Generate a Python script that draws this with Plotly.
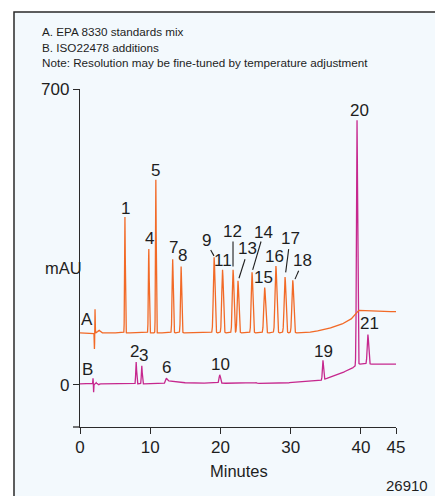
import numpy as np
import plotly.graph_objects as go

# ---- chromatogram peak tables (retention time in min, height in mAU above local baseline, width sigma in min)
peaks_a_time = [6.4, 9.8, 10.8, 13.2, 14.4, 19.1, 20.3, 21.8, 22.5, 24.5, 26.3, 27.9, 29.2, 30.3]
peaks_a_height = [274, 198, 362, 174, 157, 179, 149, 149, 123, 143, 107, 158, 132, 124]
peaks_a_sigma = [0.05, 0.06, 0.05, 0.08, 0.08, 0.11, 0.11, 0.11, 0.11, 0.11, 0.12, 0.12, 0.12, 0.12]

peaks_b_time = [8.0, 8.8, 12.25, 19.9, 25.1, 34.6, 39.45, 41.0]
peaks_b_height = [52, 43, 6, 20, 2, 46, 580, 70]
peaks_b_sigma = [0.06, 0.06, 0.12, 0.1, 0.1, 0.08, 0.08, 0.1]

# injection disturbance (time, height, sigma)
inject_a = [(2.06, -40, 0.03), (2.14, 57, 0.03), (2.7, 6, 0.15)]
inject_b = [(1.86, 14, 0.03), (1.94, -20, 0.03), (2.3, 3, 0.05), (2.7, -2, 0.05)]

# baseline drift knots (time, mAU)
base_a_time = [0, 31.0, 33.0, 35.0, 37.0, 38.5, 39.4, 39.6, 42.0, 45.0]
base_a_level = [123, 123, 125, 131, 141, 154, 168, 176, 174, 173]

base_b_time = [0, 12.0, 12.3, 12.8, 13.5, 14.5, 16.0, 26.0, 29.0, 32.0, 34.3, 36.0, 38.0, 39.4, 39.6, 45.0]
base_b_level = [2, 2, 10, 9, 7, 5, 4, 3, 4, 7, 10, 20, 33, 45, 49, 49]

# peak number labels: (text, time, mAU)
labels = [("1", 6.41, 418), ("4", 9.83, 345), ("5", 10.82, 508), ("7", 13.34, 326),
          ("8", 14.63, 305), ("9", 18.04, 341), ("11", 20.32, 293), ("12", 21.69, 363),
          ("13", 23.82, 323), ("14", 26.10, 361), ("15", 26.10, 255), ("16", 27.63, 304),
          ("17", 30.0, 347), ("18", 31.71, 293), ("20", 39.87, 649), ("21", 41.2, 144),
          ("19", 34.65, 79), ("2", 7.83, 79), ("3", 9.11, 69), ("6", 12.25, 40),
          ("10", 19.94, 49), ("A", 0.95, 155), ("B", 1.04, 37)]

# leader lines from label to peak: (t0, v0, t1, v1)
leaders = [(18.61, 319, 19.08, 305), (21.79, 339, 21.79, 280), (23.50, 297, 22.64, 252),
           (25.78, 339, 24.59, 272), (29.72, 321, 29.29, 266), (31.14, 270, 30.62, 250)]

x_ticks = [0, 10, 20, 30, 40, 45]
y_ticks = [0, 700]

ORANGE = "#f26a27"
MAGENTA = "#c6288e"
TEXT = "#1e1e1e"
FONT = "Liberation Sans, Arial, Helvetica, sans-serif"


def trace(times, heights, sigmas, inject, bt, bl, t):
    y = np.interp(t, bt, bl)
    for t0, h, s in zip(times, heights, sigmas):
        y = y + h * np.exp(-0.5 * ((t - t0) / s) ** 2)
    for t0, h, s in inject:
        y = y + h * np.exp(-0.5 * ((t - t0) / s) ** 2)
    return y


t = np.arange(0, 45.0001, 0.005)
ya = trace(peaks_a_time, peaks_a_height, peaks_a_sigma, inject_a, base_a_time, base_a_level, t)
yb = trace(peaks_b_time, peaks_b_height, peaks_b_sigma, inject_b, base_b_time, base_b_level, t)

fig = go.Figure()
fig.add_trace(go.Scatter(x=t, y=yb, mode="lines", line=dict(color=MAGENTA, width=1.3),
                         hoverinfo="skip", showlegend=False))
fig.add_trace(go.Scatter(x=t, y=ya, mode="lines", line=dict(color=ORANGE, width=1.3),
                         hoverinfo="skip", showlegend=False))

W, H = 435, 496
L, R, T, B = 80, 39, 89, 69
pw, ph = W - L - R, H - T - B


def px(xp):
    return (xp - L) / pw


def py(yp):
    return (H - B - yp) / ph


shapes = [
    # framed panel
    dict(type="rect", xref="paper", yref="paper", x0=px(14), x1=px(450), y0=py(510), y1=py(12),
         line=dict(color="#2a2a2a", width=1.5), fillcolor="#f3f9fd", layer="below"),
    # x axis line extension to the left of zero
    dict(type="line", xref="paper", yref="paper", x0=px(73), x1=0, y0=0, y1=0,
         line=dict(color="#2a2a2a", width=1.3)),
]
for t0, v0, t1, v1 in leaders:
    shapes.append(dict(type="line", xref="x", yref="y", x0=t0, y0=v0, x1=t1, y1=v1,
                       line=dict(color=TEXT, width=1.1)))

annotations = []
for txt, tt, vv in labels:
    annotations.append(dict(text=txt, x=tt, y=vv, xref="x", yref="y", showarrow=False,
                            font=dict(size=17, color=TEXT, family=FONT),
                            xanchor="center", yanchor="middle"))

header = ["A. EPA 8330 standards mix", "B. ISO22478 additions",
          "Note: Resolution may be fine-tuned by temperature adjustment"]
for i, line in enumerate(header):
    annotations.append(dict(text=line, x=px(40), y=py(32 + i * 15.3), xref="paper", yref="paper",
                            showarrow=False, xanchor="left", yanchor="middle",
                            font=dict(size=11.7, color=TEXT, family=FONT)))

annotations += [
    dict(text="mAU", x=px(63), y=py(268), xref="paper", yref="paper", showarrow=False,
         xanchor="center", yanchor="middle", font=dict(size=16.5, color=TEXT, family=FONT)),
    dict(text="Minutes", x=px(239), y=py(471), xref="paper", yref="paper", showarrow=False,
         xanchor="center", yanchor="middle", font=dict(size=16.5, color=TEXT, family=FONT)),
    dict(text="26910", x=px(407), y=py(485), xref="paper", yref="paper", showarrow=False,
         xanchor="center", yanchor="middle", font=dict(size=15, color=TEXT, family=FONT)),
]

axis_style = dict(ticks="outside", ticklen=6, tickwidth=1.3, tickcolor="#2a2a2a",
                  showline=True, linecolor="#2a2a2a", linewidth=1.3, showgrid=False,
                  zeroline=False, fixedrange=True,
                  tickfont=dict(size=17, color=TEXT, family=FONT))

fig.update_layout(
    width=W, height=H,
    margin=dict(l=L, r=R, t=T, b=B),
    paper_bgcolor="white",
    plot_bgcolor="rgba(0,0,0,0)",
    shapes=shapes,
    annotations=annotations,
    xaxis=dict(range=[0, 45], tickvals=x_ticks, ticklabelstandoff=-2, **axis_style),
    yaxis=dict(range=[-100, 700], tickvals=y_ticks, **axis_style),
    showlegend=False,
)

fig.write_html("out.html")
